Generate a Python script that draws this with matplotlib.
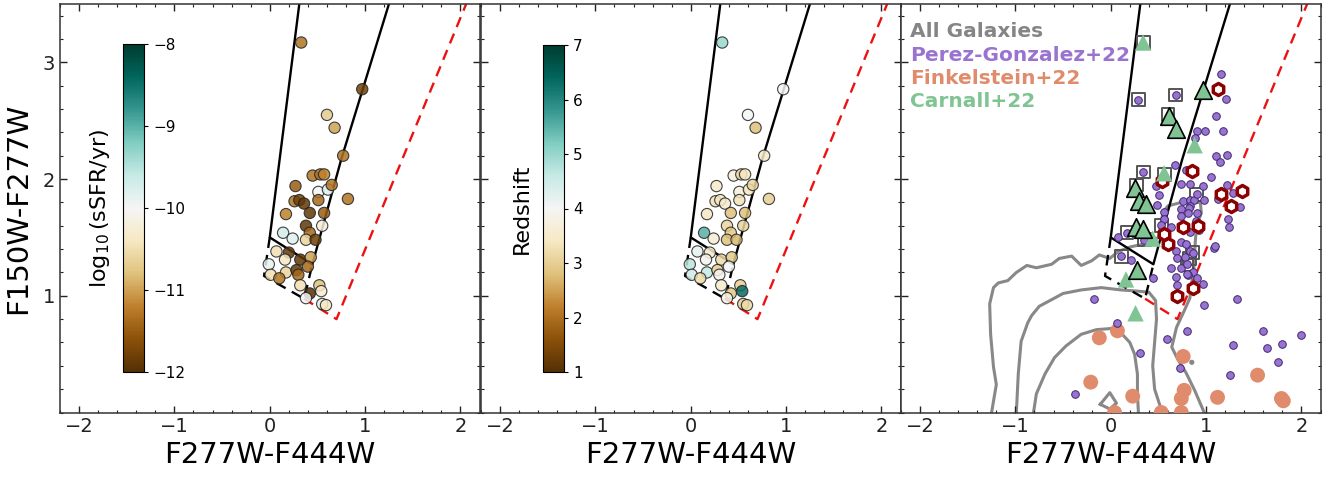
import numpy as np
import matplotlib
matplotlib.use("Agg")
import matplotlib.pyplot as plt
from matplotlib.ticker import MultipleLocator

# ---------------- quiescent candidates (panels 1 and 2) ----------------
qx = [0.33, 0.97, 0.60, 0.68, 0.77, 0.45, 0.53, 0.57, 0.27, 0.51, 0.61, 0.65,
      0.82, 0.26, 0.31, 0.36, 0.51, 0.42, 0.17, 0.57, 0.38, 0.55, 0.42, 0.14,
      0.24, 0.38, 0.48, 0.07, 0.20, 0.16, 0.32, 0.43, 0.40, -0.01, 0.17, 0.28,
      0.30, 0.01, 0.10, 0.32, 0.52, 0.54, 0.42, 0.38, 0.55, 0.59]
qy = [3.17, 2.77, 2.55, 2.44, 2.20, 2.03, 2.04, 2.04, 1.94, 1.89, 1.91, 1.95,
      1.83, 1.81, 1.82, 1.79, 1.82, 1.71, 1.70, 1.71, 1.60, 1.60, 1.54, 1.54,
      1.49, 1.48, 1.48, 1.38, 1.37, 1.31, 1.31, 1.33, 1.25, 1.27, 1.20, 1.22,
      1.18, 1.18, 1.15, 1.09, 1.09, 1.04, 1.02, 0.98, 0.93, 0.92]
log_ssfr = [-11.3, -11.8, -10.7, -11.0, -11.3, -11.3, -11.3, -11.2, -11.5, -10.0,
            -9.8, -11.3, -11.3, -11.3, -11.8, -11.9, -11.4, -11.9, -11.2, -11.5,
            -11.9, -10.2, -11.4, -9.7, -9.8, -10.6, -11.8, -10.5, -11.9, -10.4,
            -11.9, -11.0, -11.4, -9.9, -10.6, -11.9, -11.4, -10.5, -11.3, -10.5,
            -10.8, -10.3, -12.0, -10.0, -9.8, -10.4]
redshift = [5.0, 4.0, 4.0, 2.8, 3.5, 3.7, 3.2, 3.4, 3.5, 3.7, 3.4, 3.1,
            3.0, 3.3, 3.4, 3.5, 3.3, 2.8, 3.4, 2.8, 3.1, 3.1, 2.9, 5.5,
            3.6, 2.8, 2.7, 4.2, 3.5, 3.9, 3.2, 2.9, 4.0, 4.7, 4.6, 3.0,
            3.9, 4.5, 3.2, 3.5, 3.0, 6.3, 2.9, 3.8, 3.0, 3.2]

# ---------------- selection boundaries ----------------
wedge_x = [0.31, 0.00, 0.447, 0.75, 1.25]
wedge_y = [3.50, 1.50, 1.27, 2.17, 3.50]
ext_x = [0.00, -0.06, 0.36, 0.447]
ext_y = [1.50, 1.17, 0.975, 1.27]
red_x = [0.36, 0.70, 2.06]
red_y = [0.975, 0.80, 3.50]

# ---------------- literature samples (panel 3) ----------------
pg_x = [1.16, 1.21, 1.10, 0.90, 0.99, 1.18, 0.88, 1.10, 1.22, 1.15, 0.67, 0.79,
        1.05, 0.74, 0.83, 0.97, 1.22, 0.47, 0.51, 1.28, 1.12, 0.76, 0.83, 0.87,
        0.98, 0.83, 0.48, 0.74, 0.82, 0.90, 0.81, 0.56, 0.56, 0.74, 0.89, 0.93,
        0.63, 1.36, 1.23, 1.24, 0.93, 0.83, 1.08, 0.08, 0.74, 0.79, 0.68, 0.83,
        0.78, 0.70, 0.21, 0.63, 0.74, 0.86, 0.81, 0.68, 0.80, 0.90, 0.97, 0.70,
        0.44, 0.29, 0.68, 0.34, 0.17, 0.11, 0.90, 0.86, 0.80, 0.35, 0.53,
        1.32, 0.98, -0.18, 0.07, 0.80, 0.59, 0.31, 0.73, 1.28, 1.60, 1.80, 1.64,
        2.00, 1.75, 1.25, -0.38, 1.09]
pg_y = [2.90, 2.69, 2.54, 2.41, 2.41, 2.41, 2.35, 2.20, 2.21, 2.15, 2.12, 2.08,
        2.02, 1.96, 1.96, 1.94, 1.95, 1.94, 1.86, 1.88, 1.83, 1.81, 1.82, 1.82,
        1.82, 1.77, 1.78, 1.74, 1.75, 1.71, 1.71, 1.72, 1.66, 1.68, 1.64, 1.58,
        1.59, 1.76, 1.66, 1.59, 1.56, 1.55, 1.41, 1.50, 1.46, 1.44, 1.38, 1.38,
        1.33, 1.32, 1.31, 1.24, 1.24, 1.20, 1.18, 1.16, 1.19, 1.15, 1.10, 1.09,
        1.15, 2.68, 2.72, 2.06, 1.54, 1.34, 1.87, 1.37, 1.27, 1.48, 1.61,
        0.97, 0.92, 0.97, 0.77, 0.70, 0.63, 0.51, 0.38, 0.58, 0.70, 0.59, 0.55,
        0.66, 0.43, 0.32, 0.16, 1.43]
boxed_x = [0.34, 0.29, 0.68, 0.60, 0.34, 0.56, 0.17, 0.11, 0.90, 0.53, 0.86,
           0.80, 0.27, 0.35, 0.83]
boxed_y = [3.17, 2.68, 2.72, 2.55, 2.06, 2.04, 1.54, 1.34, 1.87, 1.60, 1.37,
           1.27, 1.95, 1.48, 1.32]
fink_x = [-0.12, 0.07, 0.76, -0.21, 0.23, 0.77, 0.74, 1.12, 1.54, 1.79, 1.81,
          0.04, 0.53, 0.74]
fink_y = [0.64, 0.70, 0.48, 0.26, 0.14, 0.19, 0.12, 0.13, 0.32, 0.12, 0.10,
          0.00, 0.00, 0.00]
carn_edge_x = [0.97, 0.61, 0.68, 0.25, 0.30, 0.37, 0.27, 0.34, 0.28]
carn_edge_y = [2.76, 2.54, 2.43, 1.92, 1.81, 1.79, 1.59, 1.57, 1.22]
carn_x = [0.34, 0.88, 0.56, 0.44, 0.16, 0.26]
carn_y = [3.17, 2.29, 2.05, 1.49, 1.14, 0.85]
hex_x = [1.12, 0.85, 0.54, 1.16, 1.38, 1.26, 0.76, 0.92, 0.56, 0.60, 0.86, 0.69]
hex_y = [2.77, 2.07, 1.98, 1.87, 1.90, 1.77, 1.59, 1.60, 1.53, 1.44, 1.07, 1.00]
grey_x = [0.85]
grey_y = [0.43]

# density contours of the full photometric catalogue
cont1_x = [-1.25, -1.20, -1.23, -1.26, -1.27, -1.23, -1.18, -1.08, -0.99, -0.88,
           -0.78, -0.62, -0.54, -0.41, -0.31, -0.20, -0.12, -0.01, 0.08, 0.21,
           0.39, 0.50, 0.55, 0.60, 0.74, 0.85, 0.94, 0.95, 0.91, 0.89, 0.88,
           0.87, 0.84, 0.83, 0.77, 0.69, 0.64, 0.70, 0.79, 0.88, 0.98]
cont1_y = [0.00, 0.24, 0.39, 0.67, 0.93, 1.07, 1.11, 1.13, 1.20, 1.26,
           1.24, 1.27, 1.32, 1.34, 1.26, 1.30, 1.35, 1.32, 1.38, 1.42,
           1.45, 1.50, 1.72, 1.77, 1.80, 1.80, 1.80, 1.71, 1.62, 1.50, 1.38,
           1.20, 1.08, 0.98, 0.87, 0.73, 0.56, 0.46, 0.34, 0.19, 0.00]
cont2_x = [-0.99, -0.97, -0.94, -0.87, -0.83, -0.75, -0.59, -0.50, -0.31, -0.10,
           0.11, 0.28, 0.40, 0.47, 0.48, 0.46, 0.44, 0.46, 0.52, 0.56]
cont2_y = [0.00, 0.33, 0.61, 0.77, 0.83, 0.91, 0.98, 1.02, 1.05, 1.07,
           1.05, 1.04, 1.03, 0.96, 0.80, 0.60, 0.40, 0.20, 0.05, 0.00]
cont3_x = [-0.81, -0.78, -0.69, -0.59, -0.47, -0.31, -0.15, 0.01, 0.11, 0.20,
           0.25, 0.28, 0.28, 0.29]
cont3_y = [0.00, 0.16, 0.33, 0.47, 0.57, 0.67, 0.71, 0.72, 0.68, 0.60,
           0.50, 0.33, 0.16, 0.00]
cont4_x = [-0.11, -0.01, 0.06, -0.01, -0.11]
cont4_y = [0.07, 0.17, 0.08, 0.03, 0.07]

legend_labels = ["All Galaxies", "Perez-Gonzalez+22", "Finkelstein+22", "Carnall+22"]
legend_colors = ["#858585", "#9a72d0", "#e08c6c", "#80c494"]

# ---------------- figure ----------------
fig = plt.figure(figsize=(13.38, 4.79), dpi=100)
W, H = 1338.0, 479.0
bottom = 1 - 412.5 / H
height = 408.5 / H
lefts = [60 / W, 481 / W, 901 / W]
width = 419.5 / W
axes = [fig.add_axes([l, bottom, width, height]) for l in lefts]

cmap = plt.get_cmap("BrBG")


def style(ax, show_y):
    ax.set_xlim(-2.2, 2.2)
    ax.set_ylim(0, 3.5)
    ax.xaxis.set_major_locator(MultipleLocator(1))
    ax.xaxis.set_minor_locator(MultipleLocator(0.2))
    ax.yaxis.set_major_locator(MultipleLocator(1))
    ax.yaxis.set_minor_locator(MultipleLocator(0.2))
    ax.tick_params(which="both", direction="in", top=True, right=True,
                   labelsize=14, colors="#222222")
    ax.tick_params(which="major", length=5, width=1)
    ax.tick_params(which="minor", length=2.5, width=0.8)
    ax.set_yticks([1, 2, 3])
    if not show_y:
        ax.tick_params(labelleft=False)
    for s in ax.spines.values():
        s.set_color("#333333")
        s.set_linewidth(1.1)
    ax.set_xlabel("F277W-F444W", fontsize=21, labelpad=3)


def boundaries(ax):
    ax.plot(wedge_x, wedge_y, color="k", lw=1.7, zorder=2)
    ax.plot(ext_x, ext_y, color="k", lw=1.7, ls=(0, (4.5, 3)), zorder=2)
    ax.plot(red_x, red_y, color="#ee1111", lw=1.7, ls=(0, (4.5, 3)), zorder=2)


for i, ax in enumerate(axes):
    style(ax, i == 0)
    boundaries(ax)
axes[0].set_ylabel("F150W-F277W", fontsize=21, labelpad=8)

# panel 1: coloured by specific star formation rate
sc1 = axes[0].scatter(qx, qy, c=log_ssfr, cmap=cmap, vmin=-12, vmax=-8, s=66,
                      edgecolors="#222222", linewidths=0.8, alpha=0.85, zorder=3)
# panel 2: coloured by redshift
sc2 = axes[1].scatter(qx, qy, c=redshift, cmap=cmap, vmin=1, vmax=7, s=66,
                      edgecolors="#222222", linewidths=0.8, alpha=0.85, zorder=3)

cax1 = fig.add_axes([123 / W, 1 - 372 / H, 21 / W, 328 / H])
cb1 = fig.colorbar(sc1, cax=cax1)
cb1.set_ticks([-12, -11, -10, -9, -8])
cb1.set_label(r"$\log_{10}$(sSFR/yr)", fontsize=16, labelpad=8)
cax2 = fig.add_axes([543 / W, 1 - 372 / H, 21 / W, 327 / H])
cb2 = fig.colorbar(sc2, cax=cax2)
cb2.set_ticks([1, 2, 3, 4, 5, 6, 7])
cb2.set_label("Redshift", fontsize=16, labelpad=8)
for cb in (cb1, cb2):
    cb.solids.set_alpha(1)
    cb.ax.yaxis.set_label_position("left")
    cb.ax.tick_params(labelsize=11, length=3, direction="out")
    cb.outline.set_linewidth(0.8)

# panel 3: literature comparison
ax3 = axes[2]
for cx, cy in [(cont1_x, cont1_y), (cont2_x, cont2_y), (cont3_x, cont3_y), (cont4_x, cont4_y)]:
    ax3.plot(cx, cy, color="#888888", lw=2.2, zorder=1)
ax3.scatter(fink_x, fink_y, s=115, color=legend_colors[2], edgecolors="none", zorder=3)
ax3.scatter(boxed_x, boxed_y, s=85, marker="s", facecolors="none",
            edgecolors="#555555", linewidths=1.4, zorder=3)
ax3.scatter(pg_x, pg_y, s=30, color=legend_colors[1], edgecolors="#3d2a70",
            linewidths=0.7, zorder=4)
ax3.scatter(grey_x, grey_y, s=14, color="#888888", edgecolors="none", zorder=4)
ax3.scatter(hex_x, hex_y, s=75, marker="h", facecolors="white",
            edgecolors="#8b0000", linewidths=2.5, zorder=5)
ax3.scatter(carn_x, carn_y, s=140, marker="^", color=legend_colors[3],
            edgecolors="none", zorder=6)
ax3.scatter(carn_edge_x, carn_edge_y, s=160, marker="^", color=legend_colors[3],
            edgecolors="k", linewidths=1.2, zorder=6)

for k, (lab, col) in enumerate(zip(legend_labels, legend_colors)):
    ax3.text(0.022, 0.932 - k * 0.057, lab, transform=ax3.transAxes, color=col,
             fontsize=14.5, fontweight="bold", va="center", ha="left", zorder=7)

fig.savefig("out.png", dpi=100)
